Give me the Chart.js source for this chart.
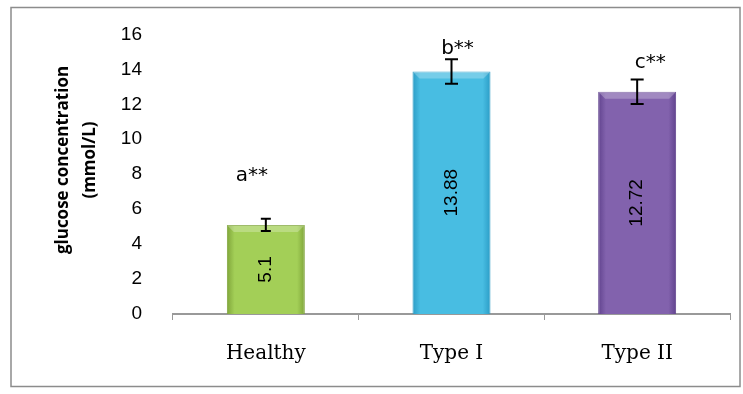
<!DOCTYPE html>
<html>
<head>
<meta charset="utf-8">
<script src="https://cdn.jsdelivr.net/npm/chart.js@4/dist/chart.umd.min.js"></script>
<style>
  html, body { margin: 0; padding: 0; background: #fff; }
  #wrap { width: 743px; height: 394px; position: relative; }
</style>
</head>
<body>
<div id="wrap"><canvas id="glucosa" width="743" height="394"></canvas></div>
<script>
// datos del grafico
const categorias = ['Healthy', 'Type I', 'Type II'];
const glucosa = [5.1, 13.88, 12.72];
const errores = [0.35, 0.7, 0.7];
const letras = ['a**', 'b**', 'c**'];
const alturaLetras = [7.9, 15.2, 14.35];
const ticksY = [0, 2, 4, 6, 8, 10, 12, 14, 16];

const colores = [
  { centro: '#a3cf57', borde: '#7fa53a' },
  { centro: '#48bde2', borde: '#2b9cc6' },
  { centro: '#8262ad', borde: '#61438e' }
];
const desplazaLetra = [-14, 6, 13];

function gradiente(ctx) {
  const chart = ctx.chart;
  const i = ctx.dataIndex || 0;
  const c = colores[i];
  const sx = chart.scales && chart.scales.x;
  if (!sx || ctx.type !== 'data') return c.centro;
  const cx = sx.getPixelForValue(i);
  if (!isFinite(cx)) return c.centro;
  const w = 78;
  const x0 = cx - w / 2;
  const g = chart.ctx.createLinearGradient(x0, 0, x0 + w, 0);
  g.addColorStop(0, c.borde);
  g.addColorStop(0.1, c.centro);
  g.addColorStop(0.9, c.centro);
  g.addColorStop(1, c.borde);
  return g;
}

const extras = {
  id: 'extras',
  afterDatasetsDraw(chart) {
    const ctx = chart.ctx;
    const y = chart.scales.y;
    const meta = chart.getDatasetMeta(0);
    ctx.save();
    // borde exterior
    ctx.strokeStyle = '#8c8c8c';
    ctx.lineWidth = 1.5;
    ctx.strokeRect(11, 7.5, 729, 379);

    meta.data.forEach((bar, i) => {
      // bisel superior
      ctx.fillStyle = 'rgba(255,255,255,0.25)';
      ctx.beginPath();
      ctx.moveTo(bar.x - 39, bar.y);
      ctx.lineTo(bar.x + 39, bar.y);
      ctx.lineTo(bar.x + 32, bar.y + 7);
      ctx.lineTo(bar.x - 32, bar.y + 7);
      ctx.closePath();
      ctx.fill();

      // barras de error
      const top = y.getPixelForValue(glucosa[i] + errores[i]);
      const bot = y.getPixelForValue(glucosa[i] - errores[i]);
      const cap = i === 0 ? 5 : 6.5;
      ctx.strokeStyle = '#000';
      ctx.lineWidth = 2;
      ctx.beginPath();
      ctx.moveTo(bar.x, top); ctx.lineTo(bar.x, bot);
      ctx.moveTo(bar.x - cap, top); ctx.lineTo(bar.x + cap, top);
      ctx.moveTo(bar.x - cap, bot); ctx.lineTo(bar.x + cap, bot);
      ctx.stroke();

      // letras
      ctx.fillStyle = '#000';
      ctx.font = '20px "DejaVu Sans", sans-serif';
      ctx.textAlign = 'center';
      ctx.textBaseline = 'middle';
      ctx.fillText(letras[i], bar.x + desplazaLetra[i], y.getPixelForValue(alturaLetras[i]));

      // valor dentro de la barra
      const medio = (bar.y + bar.base) / 2;
      ctx.save();
      ctx.translate(bar.x, medio);
      ctx.rotate(-Math.PI / 2);
      ctx.font = '19px "Liberation Sans", Arial, sans-serif';
      ctx.fillText(String(glucosa[i]), 0, 0);
      ctx.restore();
    });

    // titulo del eje y
    ctx.fillStyle = '#000';
    ctx.font = 'bold 17px "Open Sans", "Liberation Sans", sans-serif';
    ctx.textAlign = 'center';
    ctx.textBaseline = 'middle';
    ctx.save();
    ctx.translate(63, 160);
    ctx.rotate(-Math.PI / 2);
    ctx.fillText('glucose concentration', 0, 0);
    ctx.fillText('(mmol/L)', 0, 27);
    ctx.restore();
    ctx.restore();
  }
};

new Chart(document.getElementById('glucosa'), {
  type: 'bar',
  data: {
    labels: categorias,
    datasets: [{
      data: glucosa,
      backgroundColor: gradiente,
      borderColor: colores.map(c => c.borde),
      borderWidth: 1,
      barPercentage: 0.42,
      categoryPercentage: 1
    }]
  },
  options: {
    responsive: false,
    animation: false,
    layout: { padding: { left: 0, right: 13, top: 33, bottom: 0 } },
    plugins: { legend: { display: false }, tooltip: { enabled: false } },
    scales: {
      x: {
        afterFit(s) { s.height = 80; },
        grid: { drawOnChartArea: false, color: '#999', tickLength: 6, offset: true },
        border: { color: '#999', width: 2 },
        ticks: {
          color: '#000',
          padding: 22,
          font: { family: '"DejaVu Serif", "Liberation Serif", serif', size: 20 }
        }
      },
      y: {
        min: 0,
        max: 16,
        afterFit(s) { s.width = 173; },
        afterBuildTicks(s) { s.ticks = ticksY.map(v => ({ value: v })); },
        grid: { display: false },
        border: { display: false },
        ticks: {
          color: '#000',
          padding: 23,
          font: { family: '"Liberation Sans", Arial, sans-serif', size: 19 }
        }
      }
    }
  },
  plugins: [extras]
});
</script>
</body>
</html>
